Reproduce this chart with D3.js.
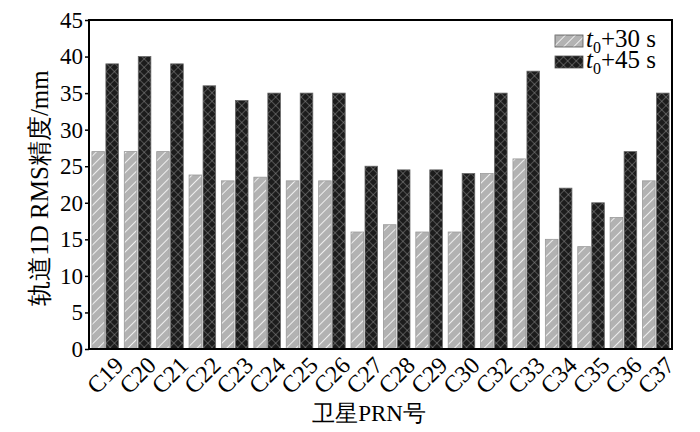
<!DOCTYPE html>
<html>
<head>
<meta charset="utf-8">
<script src="https://cdn.jsdelivr.net/npm/d3@7"></script>
<style>
  body { margin: 0; background: #fff; }
  text { font-family: "Liberation Serif", "Times New Roman", serif; fill: #000; }
</style>
</head>
<body>
<div class="chart"></div>
<script>
// data
const sats = ['C19','C20','C21','C22','C23','C24','C25','C26','C27','C28','C29','C30','C32','C33','C34','C35','C36','C37'];
const t30 = [27, 27, 27, 23.8, 23, 23.5, 23, 23, 16, 17, 16, 16, 24, 26, 15, 14, 18, 23];
const t45 = [39, 40, 39, 36, 34, 35, 35, 35, 25, 24.5, 24.5, 24, 35, 38, 22, 20, 27, 35];
const yTicks = [0, 5, 10, 15, 20, 25, 30, 35, 40, 45];

const width = 700, height = 432;
const margin = {left: 89, right: 28, top: 20, bottom: 83};
const plotW = width - margin.left - margin.right;
const plotH = height - margin.top - margin.bottom;

const svg = d3.select('.chart').append('svg')
    .attr('width', width)
    .attr('height', height);

// fill patterns
const defs = svg.append('defs');
const p1 = defs.append('pattern')
    .attr('id', 'hatch')
    .attr('patternUnits', 'userSpaceOnUse')
    .attr('width', 7).attr('height', 7)
    .attr('patternTransform', 'rotate(45)');
p1.append('rect').attr('width', 7).attr('height', 7).attr('fill', '#b2b2b2');
p1.append('line').attr('x1', 0).attr('y1', 0).attr('x2', 0).attr('y2', 7)
    .attr('stroke', '#fff').attr('stroke-width', 1.6);

const p2 = defs.append('pattern')
    .attr('id', 'cross')
    .attr('patternUnits', 'userSpaceOnUse')
    .attr('width', 6).attr('height', 6)
    .attr('patternTransform', 'rotate(45)');
p2.append('rect').attr('width', 6).attr('height', 6).attr('fill', '#1c1c1c');
p2.append('line').attr('x1', 0).attr('y1', 0).attr('x2', 0).attr('y2', 6)
    .attr('stroke', '#8a8a8a').attr('stroke-width', 1);
p2.append('line').attr('x1', 0).attr('y1', 0).attr('x2', 6).attr('y2', 0)
    .attr('stroke', '#8a8a8a').attr('stroke-width', 1);

const g = svg.append('g')
    .attr('transform', 'translate(' + margin.left + ',' + margin.top + ')');

const x = d3.scaleBand()
    .domain(sats)
    .range([0, plotW])
    .paddingInner(0.18)
    .paddingOuter(0.09);

const xs = d3.scaleBand()
    .domain(['a', 'b'])
    .range([0, x.bandwidth()])
    .paddingInner(0.1);

const y = d3.scaleLinear()
    .domain([0, 45])
    .range([plotH, 0]);

const series = [
  {key: 'a', values: t30, fill: 'url(#hatch)', stroke: '#9a9a9a'},
  {key: 'b', values: t45, fill: 'url(#cross)', stroke: '#666'}
];

series.forEach(s => {
  g.selectAll('rect.bar-' + s.key)
      .data(sats)
      .enter()
      .append('rect')
      .attr('class', 'bar-' + s.key)
      .attr('x', (d, i) => x(d) + xs(s.key))
      .attr('y', (d, i) => y(s.values[i]))
      .attr('width', xs.bandwidth())
      .attr('height', (d, i) => plotH - y(s.values[i]))
      .attr('fill', s.fill)
      .attr('stroke', s.stroke)
      .attr('stroke-width', 0.8);
});

// frame
g.append('rect')
    .attr('width', plotW)
    .attr('height', plotH)
    .attr('fill', 'none')
    .attr('stroke', '#000')
    .attr('stroke-width', 2);

// y axis
const yAxis = g.append('g')
    .call(d3.axisLeft(y).tickValues(yTicks).tickSize(4).tickPadding(2));
yAxis.select('.domain').remove();
yAxis.selectAll('line').attr('stroke', '#000').attr('stroke-width', 1.5);
yAxis.selectAll('text')
    .style('font-family', '"Liberation Serif", serif')
    .style('font-size', '23px');

// x axis
const xAxis = g.append('g')
    .attr('transform', 'translate(0,' + plotH + ')')
    .call(d3.axisBottom(x).tickSize(0).tickPadding(0));
xAxis.select('.domain').remove();
xAxis.selectAll('text')
    .style('font-family', '"Liberation Serif", serif')
    .style('font-size', '24px')
    .attr('text-anchor', 'end')
    .attr('dy', 0)
    .attr('transform', 'translate(8,6) rotate(-45)')
    .attr('dominant-baseline', 'hanging');

// titles
svg.append('text')
    .attr('x', 369)
    .attr('y', 421)
    .attr('text-anchor', 'middle')
    .style('font-size', '23px')
    .text('卫星PRN号');

svg.append('text')
    .attr('transform', 'translate(48,' + 188 + ') rotate(-90)')
    .attr('text-anchor', 'middle')
    .style('font-size', '25px')
    .text('轨道1D RMS精度/mm');

// legend
const legendItems = [
  {sub: '0', label: '+30 s', fill: 'url(#hatch)', stroke: '#555'},
  {sub: '0', label: '+45 s', fill: 'url(#cross)', stroke: '#555'}
];
const legend = svg.append('g').attr('transform', 'translate(555,35)');
legendItems.forEach((d, i) => {
  const row = legend.append('g').attr('transform', 'translate(0,' + (i * 21) + ')');
  row.append('rect')
      .attr('width', 28).attr('height', 12)
      .attr('fill', d.fill)
      .attr('stroke', d.stroke)
      .attr('stroke-width', 0.8);
  row.append('text')
      .attr('x', 31).attr('y', 12)
      .style('font-size', '25px')
      .style('font-style', 'italic')
      .text('t');
  row.append('text')
      .attr('x', 38).attr('y', 18)
      .style('font-size', '16px')
      .text(d.sub);
  row.append('text')
      .attr('x', 46).attr('y', 12)
      .style('font-size', '25px')
      .text(d.label);
});
</script>
</body>
</html>
